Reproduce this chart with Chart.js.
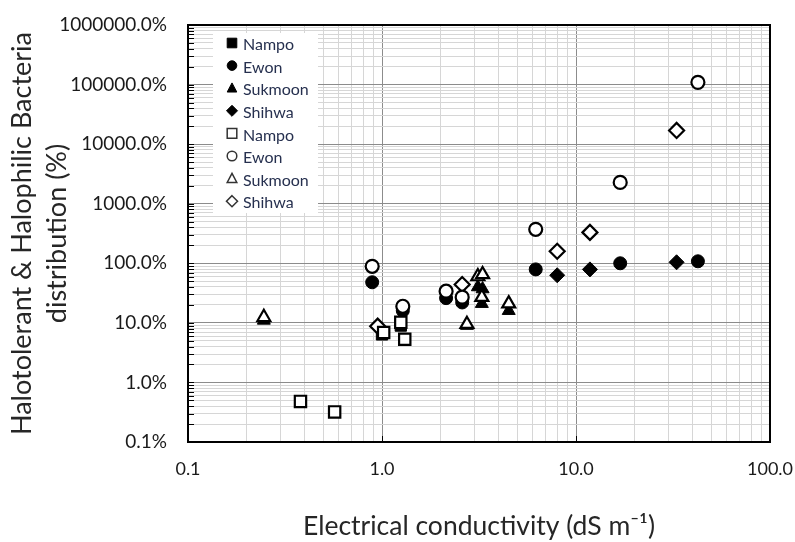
<!DOCTYPE html>
<html>
<head>
<meta charset="utf-8">
<script src="https://cdn.jsdelivr.net/npm/chart.js"></script>
<style>
  html, body { margin: 0; padding: 0; background: #fff; }
  #wrap { width: 795px; height: 542px; }
</style>
</head>
<body>
<div id="wrap"><canvas id="chart" width="795" height="542"></canvas></div>
<script>
// ===== DATA =====
// filled markers
const nampoEC    = [1.0, 1.25];
const nampoPct   = [6.4, 9.0];
const ewonEC     = [0.89, 1.28, 2.14, 2.59, 6.2, 16.9, 42.5];
const ewonPct    = [48, 16, 26, 22, 79, 100, 108];
const sukmoonEC  = [0.246, 2.74, 3.12, 3.3, 3.27, 4.5];
const sukmoonPct = [11, 9, 40, 37, 21, 16];
const shihwaEC   = [8.0, 11.8, 33];
const shihwaPct  = [63, 79, 104];

// open markers
const nampo2EC    = [0.38, 0.57, 1.02, 1.25, 1.31];
const nampo2Pct   = [0.48, 0.32, 6.9, 10.2, 5.3];
const ewon2EC     = [0.89, 1.28, 2.14, 2.59, 6.2, 16.9, 42.5];
const ewon2Pct    = [89, 19, 34, 27, 372, 2280, 109000];
const sukmoon2EC  = [0.246, 2.74, 3.12, 3.3, 3.27, 4.5];
const sukmoon2Pct = [12.4, 9.5, 60, 65, 27, 21];
const shihwa2EC   = [0.95, 2.59, 8.0, 11.8, 33];
const shihwa2Pct  = [8.8, 44, 159, 330, 17000];

const seriesNames = ['Nampo', 'Ewon', 'Sukmoon', 'Shihwa', 'Nampo', 'Ewon', 'Sukmoon', 'Shihwa'];
const xDecades = [0.1, 1, 10, 100];
const yDecades = [0.1, 1, 10, 100, 1000, 10000, 100000, 1000000];

// ===== HELPERS =====
const FONT = 'Lato, "Open Sans", "Liberation Sans", sans-serif';

function pts(xs, ys) {
  return xs.map(function (x, i) { return { x: x, y: ys[i] }; });
}

function isDecade(v) {
  const l = Math.log10(v);
  return Math.abs(l - Math.round(l)) < 1e-6;
}

// 1..9 x 10^n between the first and last decade
function logTicks(decades) {
  const out = [];
  for (let i = 0; i < decades.length - 1; i++) {
    for (let m = 1; m <= 9; m++) out.push(Number((m * decades[i]).toPrecision(4)));
  }
  out.push(decades[decades.length - 1]);
  return out.map(function (v) { return { value: v }; });
}

const styles = ['rect', 'circle', 'triangle', 'rectRot'];
const radii  = { rect: 8, circle: 6.5, triangle: 7.5, rectRot: 7.5 };

function makeSet(i, xs, ys, open) {
  const st = styles[i % 4];
  return {
    label: seriesNames[i],
    data: pts(xs, ys),
    pointStyle: st,
    pointRadius: radii[st],
    pointHoverRadius: radii[st],
    backgroundColor: open ? '#fff' : '#000',
    borderColor: '#000',
    pointBorderWidth: open ? 2.2 : 1,
    showLine: false,
    order: open ? 0 : 1
  };
}

// ===== PLUGINS =====
const framePlugin = {
  id: 'frame',
  beforeDatasetsDraw(chart) {
    const { ctx, chartArea: a, scales } = chart;
    ctx.save();
    ctx.strokeStyle = '#000';
    ctx.lineWidth = 1;
    // inward ticks on the left axis
    scales.y.ticks.forEach(function (t) {
      const y = Math.round(scales.y.getPixelForValue(t.value)) + 0.5;
      ctx.beginPath();
      ctx.moveTo(a.left, y);
      ctx.lineTo(a.left + 6, y);
      ctx.stroke();
    });
    // inward ticks on the bottom axis (decades only)
    xDecades.forEach(function (v) {
      const x = Math.round(scales.x.getPixelForValue(v)) + 0.5;
      ctx.beginPath();
      ctx.moveTo(x, a.bottom);
      ctx.lineTo(x, a.bottom - 6);
      ctx.stroke();
    });
    ctx.lineWidth = 2;
    ctx.strokeRect(a.left, a.top, a.right - a.left, a.bottom - a.top);
    ctx.restore();
  }
};

function drawMarker(ctx, style, x, y, r, open) {
  ctx.beginPath();
  if (style === 'rect') {
    ctx.rect(x - r, y - r, 2 * r, 2 * r);
  } else if (style === 'circle') {
    ctx.arc(x, y, r, 0, Math.PI * 2);
  } else if (style === 'triangle') {
    ctx.moveTo(x, y - r * 1.1);
    ctx.lineTo(x + r, y + r * 0.8);
    ctx.lineTo(x - r, y + r * 0.8);
    ctx.closePath();
  } else {
    ctx.moveTo(x, y - r * 1.15);
    ctx.lineTo(x + r * 1.15, y);
    ctx.lineTo(x, y + r * 1.15);
    ctx.lineTo(x - r * 1.15, y);
    ctx.closePath();
  }
  ctx.fillStyle = open ? '#fff' : '#000';
  ctx.fill();
  ctx.lineWidth = open ? 1.5 : 1;
  ctx.strokeStyle = open ? '#333' : '#000';
  ctx.stroke();
}

const legendPlugin = {
  id: 'boxLegend',
  afterDatasetsDraw(chart) {
    const { ctx, chartArea: a } = chart;
    const left = a.left + 25, top = a.top + 8;
    ctx.save();
    ctx.fillStyle = '#fff';
    ctx.fillRect(left, top, 105, 180);
    ctx.font = '16px ' + FONT;
    ctx.textBaseline = 'middle';
    ctx.textAlign = 'left';
    seriesNames.forEach(function (name, i) {
      const y = top + 12 + i * 22.6;
      drawMarker(ctx, styles[i % 4], left + 19, y - 2, 4.8, i >= 4);
      ctx.fillStyle = '#26304f';
      ctx.fillText(name, left + 30, y);
    });
    ctx.restore();
  }
};

// ===== CHART =====
const chartEl = document.getElementById('chart');

new Chart(chartEl, {
  type: 'scatter',
  data: {
    datasets: [
      makeSet(0, nampoEC, nampoPct, false),
      makeSet(1, ewonEC, ewonPct, false),
      makeSet(2, sukmoonEC, sukmoonPct, false),
      makeSet(3, shihwaEC, shihwaPct, false),
      makeSet(4, nampo2EC, nampo2Pct, true),
      makeSet(5, ewon2EC, ewon2Pct, true),
      makeSet(6, sukmoon2EC, sukmoon2Pct, true),
      makeSet(7, shihwa2EC, shihwa2Pct, true)
    ]
  },
  options: {
    responsive: false,
    animation: false,
    devicePixelRatio: 1,
    layout: { padding: { top: 25, right: 25, left: 0, bottom: 0 } },
    plugins: {
      legend: { display: false },
      tooltip: { enabled: false }
    },
    scales: {
      x: {
        type: 'logarithmic',
        min: xDecades[0],
        max: xDecades[xDecades.length - 1],
        afterBuildTicks: function (s) { s.ticks = logTicks(xDecades); },
        afterFit: function (s) { s.height = 100; s.paddingLeft = 0; s.paddingRight = 0; },
        border: { display: false },
        grid: {
          drawTicks: false,
          color: function (c) { return c.tick && isDecade(c.tick.value) ? '#8c8c8c' : '#d6d6d6'; }
        },
        ticks: {
          autoSkip: false,
          maxRotation: 0,
          padding: 16,
          color: '#1a1a1a',
          font: { family: FONT, size: 18 },
          callback: function (v) { return isDecade(v) ? Number(v).toFixed(1) : ''; }
        },
        title: {
          display: true,
          text: 'Electrical conductivity (dS m\u207B\u00B9)',
          color: '#262626',
          font: { family: FONT, size: 26.5 },
          padding: { top: 0, bottom: 0 }
        }
      },
      y: {
        type: 'logarithmic',
        min: yDecades[0],
        max: yDecades[yDecades.length - 1],
        afterBuildTicks: function (s) { s.ticks = logTicks(yDecades); },
        afterFit: function (s) { s.width = 188; s.paddingTop = 0; s.paddingBottom = 0; },
        border: { display: false },
        grid: {
          drawTicks: false,
          color: function (c) { return c.tick && isDecade(c.tick.value) ? '#8c8c8c' : '#d6d6d6'; }
        },
        ticks: {
          autoSkip: false,
          padding: 21,
          color: '#1a1a1a',
          font: { family: FONT, size: 19 },
          callback: function (v) { return isDecade(v) ? Number(v).toFixed(1) + '%' : ''; }
        },
        title: {
          display: true,
          text: ['Halotolerant & Halophilic Bacteria', 'distribution (%)'],
          color: '#262626',
          font: { family: FONT, size: 27, lineHeight: 1.3 },
          padding: { top: 5, bottom: 0 }
        }
      }
    }
  },
  plugins: [framePlugin, legendPlugin]
});
</script>
</body>
</html>
